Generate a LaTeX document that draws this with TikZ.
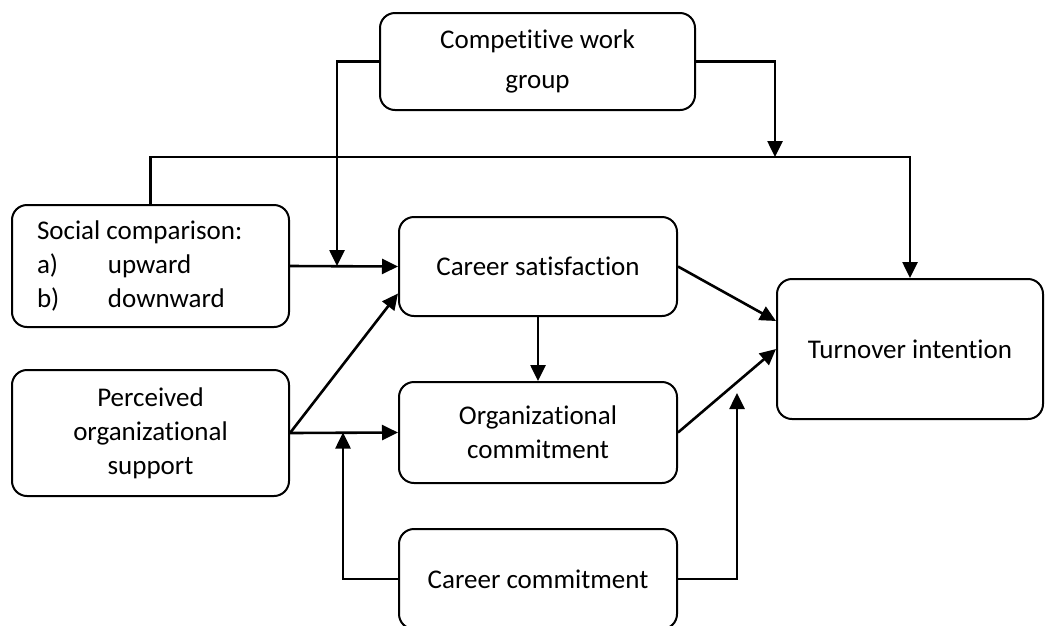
\documentclass[tikz,border=0pt]{standalone}
\usepackage{fontspec}
\setmainfont{Carlito}[Ligatures=NoCommon]
\usetikzlibrary{arrows.meta}

\begin{document}
\begin{tikzpicture}[x=1pt, y=-1pt, >={Triangle[length=16pt,width=15pt]},
                    main node/.style={rectangle,rounded corners=15pt,draw,line width=2pt,
                                      align=center,inner sep=0pt,font=\fontsize{27}{34}\selectfont},
                    link/.style={->,line width=2.6pt}]

  \useasboundingbox (0,0) rectangle (1046,625);

  \node[main node, minimum width=315pt, minimum height=97pt] (cwg) at (537.5,61.5) {Competitive work\\[6pt]group};
  \node[main node, minimum width=277pt, minimum height=122pt, align=left, text width=227pt] (soc) at (150.5,266)
       {\spaceskip=0pt\relax Social comparison:\\\makebox[71pt][l]{a)}upward\\\makebox[71pt][l]{b)}downward};
  \node[main node, minimum width=278pt, minimum height=99pt] (cs) at (538,266.5) {Career satisfaction};
  \node[main node, minimum width=277pt, minimum height=126pt] (pos) at (150.5,433) {Perceived\\organizational\\support};
  \node[main node, minimum width=278pt, minimum height=101pt] (oc) at (538,432.5) {Organizational\\commitment};
  \node[main node, minimum width=278pt, minimum height=100pt] (cc) at (538,579) {Career commitment};
  \node[main node, minimum width=266pt, minimum height=140pt] (ti) at (910,349) {Turnover intention};

  \coordinate (j1) at (337,266);
  \coordinate (j2) at (775,157);
  \coordinate (bus) at (150.5,157);
  \coordinate (j3) at (343,432.5);
  \coordinate (j4) at (737,393);

  \draw[link] (cwg.west) -| (j1);
  \draw[link] (cwg.east) -| (j2);
  \draw[link] (soc.north) -- (bus) -| (ti.north);
  \draw[link] (cc.west) -| (j3);
  \draw[link] (cc.east) -| (j4);

  \path[link]

    (soc.east) edge (cs.west)

    (pos.east) edge ([yshift=-27pt]cs.west)
	       edge (oc.west)

    (cs.south) edge (oc.north)
    (cs.east) edge ([yshift=28pt]ti.west)

    (oc.east) edge (ti.west)	;

\end{tikzpicture}
\end{document}
